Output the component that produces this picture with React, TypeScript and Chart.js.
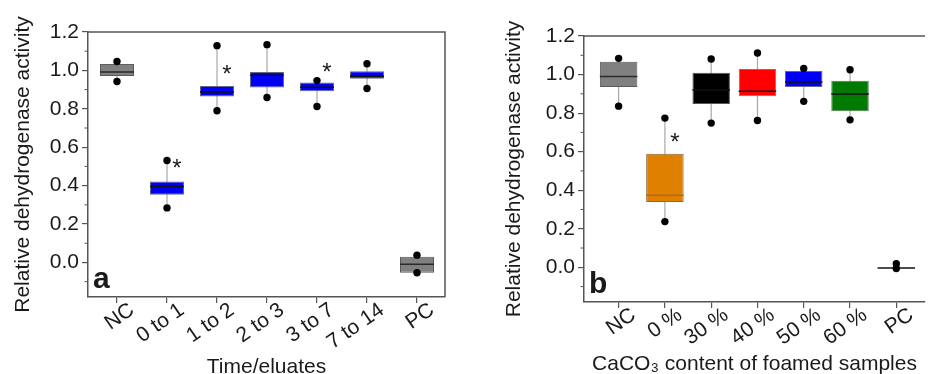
import React, { useEffect, useRef } from 'react';
import { Chart, registerables } from 'chart.js';

Chart.register(...registerables);

const FONT = '"Liberation Sans", Arial, sans-serif';
const TEXT = '#1a1a1a';
const AXIS = '#555555';

// ---------- Panel a ----------
const catsA = ['NC', '0 to 1', '1 to 2', '2 to 3', '3 to 7', '7 to 14', 'PC'];
const minA = [0.942, 0.284, 0.79, 0.859, 0.812, 0.906, -0.054];
const q1A = [0.971, 0.353, 0.864, 0.911, 0.892, 0.956, -0.054];
const medA = [0.992, 0.396, 0.888, 0.975, 0.912, 0.97, -0.01];
const q3A = [1.034, 0.422, 0.919, 0.992, 0.937, 0.996, 0.03];
const maxA = [1.046, 0.531, 1.129, 1.134, 0.947, 1.035, 0.038];
const fillA = ['#808080', '#0000f4', '#0000f4', '#0000f4', '#0000f4', '#0000f4', '#808080'];
const borderA = ['#5a5a5a', '#66668a', '#66668a', '#66668a', '#66668a', '#66668a', '#5a5a5a'];
const medColorA = ['#2a2a2a', '#111111', '#111111', '#111111', '#111111', '#111111', '#2a2a2a'];
const starIdxA = [1, 2, 4];
const starValA = [0.519, 1.008, 1.02];

// ---------- Panel b ----------
const catsB = ['NC', '0 %', '30 %', '40 %', '50 %', '60 %', 'PC'];
const minB = [0.836, 0.237, 0.748, 0.762, 0.861, 0.765, -0.006];
const q1B = [0.935, 0.339, 0.847, 0.887, 0.935, 0.809, -0.004];
const medB = [0.99, 0.374, 0.92, 0.914, 0.961, 0.899, -0.004];
const q3B = [1.067, 0.589, 1.009, 1.029, 1.018, 0.968, -0.004];
const maxB = [1.084, 0.774, 1.081, 1.112, 1.032, 1.025, 0.019];
const fillB = ['#808080', '#e08000', '#000000', '#ff0000', '#0000f4', '#007a00', '#000000'];
const borderB = ['#5a5a5a', '#8a6a40', '#555555', '#777777', '#66668a', '#557755', '#111111'];
const medColorB = ['#2a2a2a', '#b06a20', '#111111', '#111111', '#111111', '#111111', '#111111'];
const starIdxB = [1];
const starValB = [0.675];

const yTicksMinor = [-0.1, 0.1, 0.3, 0.5, 0.7, 0.9, 1.1];

type Panel = {
  cats: string[];
  min: number[];
  q1: number[];
  med: number[];
  q3: number[];
  max: number[];
  fill: string[];
  border: string[];
  medColor: string[];
  starIdx: number[];
  starVal: number[];
  letter: string;
  xTitle: string;
  xMin: number;
  xMax: number;
  barPct: number;
  axisW: number;
  axisH: number;
  padTop: number;
  padRight: number;
  yTitlePad: number;
  xTitlePad: number;
  frameRight: boolean;
  width: number;
  left: number;
};

const panelA: Panel = {
  cats: catsA, min: minA, q1: q1A, med: medA, q3: q3A, max: maxA,
  fill: fillA, border: borderA, medColor: medColorA,
  starIdx: starIdxA, starVal: starValA,
  letter: 'a', xTitle: 'Time/eluates',
  xMin: 0.42, xMax: 7.56, barPct: 0.68,
  axisW: 88, axisH: 77, padTop: 32, padRight: 25,
  yTitlePad: 10.4, xTitlePad: -6, frameRight: true,
  width: 470, left: 0,
};

const panelB: Panel = {
  cats: catsB, min: minB, q1: q1B, med: medB, q3: q3B, max: maxB,
  fill: fillB, border: borderB, medColor: medColorB,
  starIdx: starIdxB, starVal: starValB,
  letter: 'b', xTitle: 'CaCO\u2083 content of foamed samples',
  xMin: 0.252, xMax: 7.62, barPct: 0.81,
  axisW: 114, axisH: 72, padTop: 36, padRight: 0,
  yTitlePad: 31.4, xTitlePad: -2.5, frameRight: false,
  width: 459, left: 470,
};

function makePlugin(p: Panel) {
  return {
    id: 'boxExtras',
    beforeDatasetsDraw(chart: any) {
      const { ctx, scales } = chart;
      const x = scales.x;
      const y = scales.y;
      ctx.save();
      ctx.strokeStyle = '#a8a8a8';
      ctx.lineWidth = 1.2;
      p.cats.forEach((_, i) => {
        const px = x.getPixelForValue(i + 1);
        ctx.beginPath();
        ctx.moveTo(px, y.getPixelForValue(p.min[i]));
        ctx.lineTo(px, y.getPixelForValue(p.max[i]));
        ctx.stroke();
      });
      ctx.restore();
    },
    afterDatasetDraw(chart: any, args: any) {
      if (args.meta.type !== 'bar') return;
      const { ctx, scales } = chart;
      const y = scales.y;
      ctx.save();
      ctx.lineWidth = 1.5;
      args.meta.data.forEach((bar: any, i: number) => {
        const { x: bx, width } = bar.getProps(['x', 'width'], true);
        const py = y.getPixelForValue(p.med[i]);
        ctx.strokeStyle = p.medColor[i];
        ctx.beginPath();
        ctx.moveTo(bx - width / 2, py);
        ctx.lineTo(bx + width / 2, py);
        ctx.stroke();
      });
      ctx.restore();
    },
    afterDraw(chart: any) {
      const { ctx, chartArea, scales } = chart;
      const x = scales.x;
      const y = scales.y;
      ctx.save();
      // frame
      ctx.strokeStyle = AXIS;
      ctx.lineWidth = 1.5;
      ctx.beginPath();
      ctx.moveTo(chartArea.left, chartArea.top);
      ctx.lineTo(chartArea.right, chartArea.top);
      if (p.frameRight) ctx.lineTo(chartArea.right, chartArea.bottom);
      ctx.stroke();
      // minor ticks
      ctx.lineWidth = 1;
      yTicksMinor.forEach((v) => {
        const py = y.getPixelForValue(v);
        ctx.beginPath();
        ctx.moveTo(chartArea.left - 3.5, py);
        ctx.lineTo(chartArea.left, py);
        ctx.stroke();
      });
      // rotated category labels
      ctx.fillStyle = TEXT;
      ctx.font = `21px ${FONT}`;
      ctx.textAlign = 'right';
      ctx.textBaseline = 'middle';
      p.cats.forEach((c, i) => {
        const px = x.getPixelForValue(i + 1);
        ctx.save();
        ctx.translate(px + 15, chartArea.bottom + 11);
        ctx.rotate((-35 * Math.PI) / 180);
        ctx.fillText(c, 0, 0);
        ctx.restore();
      });
      // panel letter
      ctx.font = `bold 30px ${FONT}`;
      ctx.textAlign = 'left';
      ctx.textBaseline = 'alphabetic';
      ctx.fillText(p.letter, chartArea.left + 5, chartArea.bottom - 9);
      // significance stars
      ctx.font = `24px ${FONT}`;
      ctx.textAlign = 'center';
      p.starIdx.forEach((idx, k) => {
        ctx.fillText('*', x.getPixelForValue(idx + 1) + 10, y.getPixelForValue(p.starVal[k]) + 13);
      });
      ctx.restore();
    },
  };
}

function makeConfig(p: Panel): any {
  const font = { family: FONT, size: 21 };
  return {
    type: 'bar',
    data: {
      datasets: [
        {
          type: 'bar',
          order: 2,
          data: p.cats.map((_, i) => ({ x: i + 1, y: [p.q1[i], p.q3[i]] })),
          backgroundColor: p.fill,
          borderColor: p.border,
          borderWidth: 1,
          borderSkipped: false,
          barPercentage: p.barPct,
          categoryPercentage: 1,
        },
        {
          type: 'scatter',
          order: 1,
          data: [
            ...p.cats.map((_, i) => ({ x: i + 1, y: p.min[i] })),
            ...p.cats.map((_, i) => ({ x: i + 1, y: p.max[i] })),
          ],
          pointRadius: 3.7,
          pointBackgroundColor: '#000000',
          pointBorderWidth: 0,
          showLine: false,
        },
      ],
    },
    options: {
      animation: false,
      responsive: false,
      events: [],
      layout: { padding: { top: p.padTop, right: p.padRight, left: 0, bottom: 0 } },
      plugins: { legend: { display: false }, tooltip: { enabled: false } },
      scales: {
        x: {
          type: 'linear',
          min: p.xMin,
          max: p.xMax,
          offset: false,
          ticks: {
            display: false,
            stepSize: 1,
            includeBounds: false,
            autoSkip: false,
          },
          grid: { drawOnChartArea: false, offset: false, tickLength: 6, color: AXIS, lineWidth: 1.2 },
          border: { color: AXIS, width: 1.5 },
          title: {
            display: true,
            text: p.xTitle,
            color: TEXT,
            font,
            padding: { top: 0, bottom: p.xTitlePad },
          },
          afterFit: (s: any) => {
            s.height = p.axisH;
          },
        },
        y: {
          type: 'linear',
          min: -0.18,
          max: 1.2,
          ticks: {
            stepSize: 0.2,
            includeBounds: false,
            padding: 3,
            color: TEXT,
            font,
            callback: (v: number) => Number(v).toFixed(1),
          },
          grid: { drawOnChartArea: false, tickLength: 6, color: AXIS, lineWidth: 1.2 },
          border: { color: AXIS, width: 1.5 },
          title: {
            display: true,
            text: 'Relative dehydrogenase activity',
            color: TEXT,
            font,
            padding: { top: p.yTitlePad, bottom: 0 },
          },
          afterFit: (s: any) => {
            s.width = p.axisW;
          },
        },
      },
    },
    plugins: [makePlugin(p)],
  };
}

function BoxPanel({ p }: { p: Panel }) {
  const ref = useRef<HTMLCanvasElement | null>(null);
  useEffect(() => {
    if (!ref.current) return;
    const chart = new Chart(ref.current, makeConfig(p));
    return () => chart.destroy();
  }, [p]);
  return (
    <div style={{ position: 'absolute', left: p.left, top: 0, width: p.width, height: 374 }}>
      <canvas ref={ref} width={p.width} height={374} style={{ width: p.width, height: 374, display: 'block' }} />
    </div>
  );
}

export default function App() {
  return (
    <div style={{ position: 'absolute', left: 0, top: 0, width: 929, height: 374, overflow: 'hidden', background: '#ffffff' }}>
      <BoxPanel p={panelA} />
      <BoxPanel p={panelB} />
    </div>
  );
}
